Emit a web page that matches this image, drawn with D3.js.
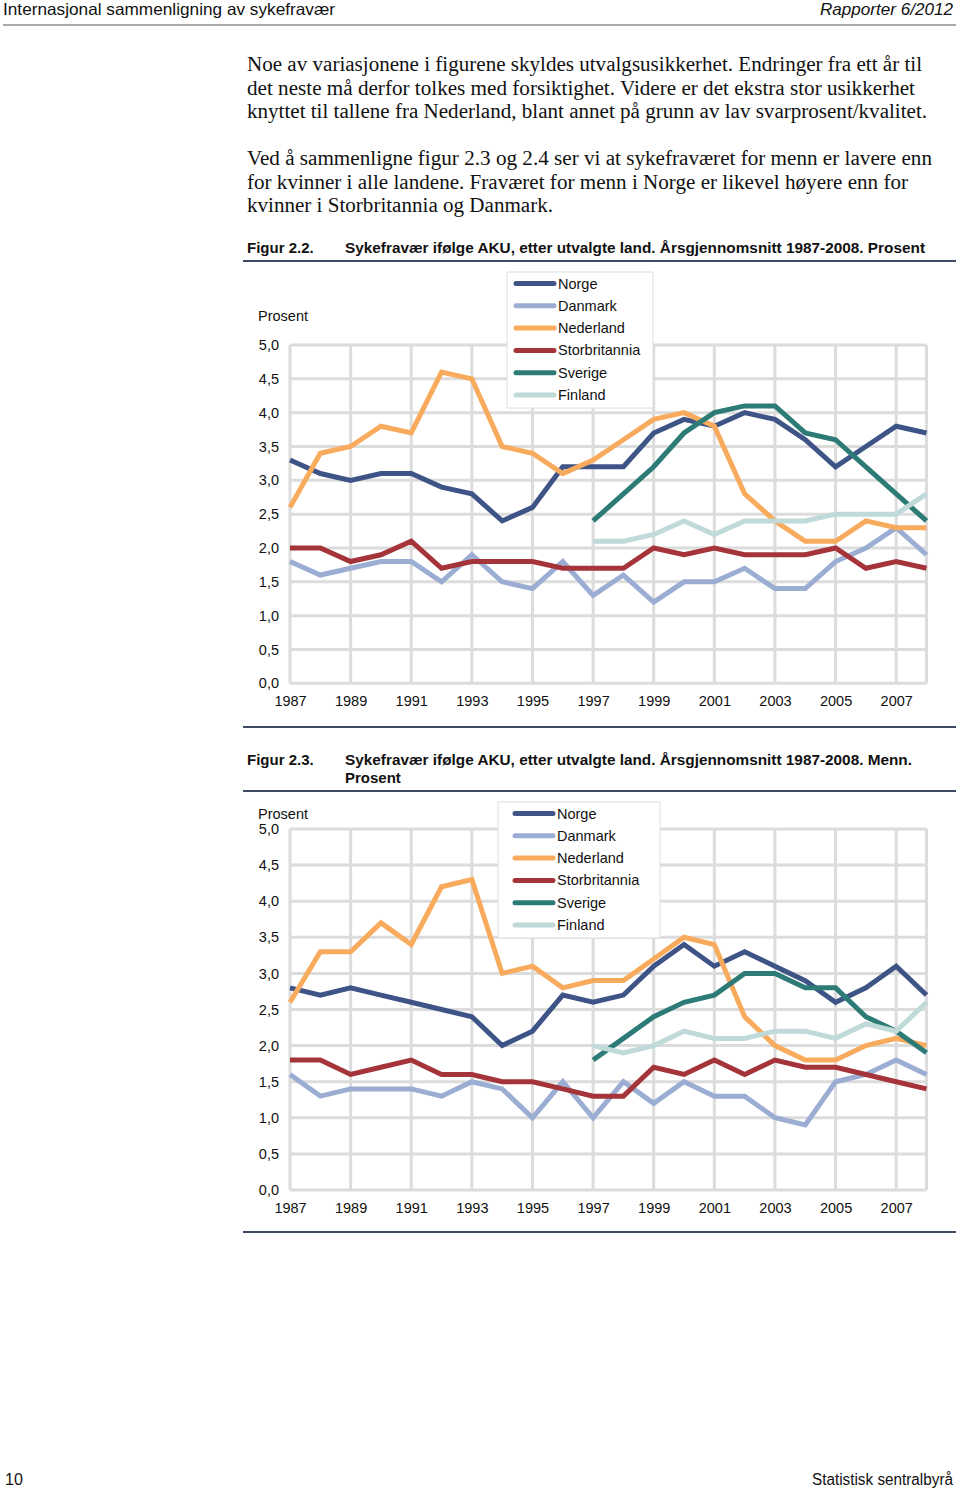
<!DOCTYPE html>
<html><head><meta charset="utf-8">
<script src="https://cdn.jsdelivr.net/npm/d3@7"></script>
<style>body{margin:0;background:#fff}svg{display:block}</style>
</head><body>
<script>
// ---------- data ----------
const years = d3.range(1987, 2009);
const countries = ["Norge","Danmark","Nederland","Storbritannia","Sverige","Finland"];
const colors = ["#3f5486","#9badd3","#f8ab5c","#a4343a","#2d7b76","#bfdad8"];
const yTicks = [0,0.5,1,1.5,2,2.5,3,3.5,4,4.5,5];
const xTickYears = [1987,1989,1991,1993,1995,1997,1999,2001,2003,2005,2007];
const N = null;
// Figur 2.2 (alle)
const f1Norge        = [3.3,3.1,3.0,3.1,3.1,2.9,2.8,2.4,2.6,3.2,3.2,3.2,3.7,3.9,3.8,4.0,3.9,3.6,3.2,3.5,3.8,3.7];
const f1Danmark      = [1.8,1.6,1.7,1.8,1.8,1.5,1.9,1.5,1.4,1.8,1.3,1.6,1.2,1.5,1.5,1.7,1.4,1.4,1.8,2.0,2.3,1.9];
const f1Nederland    = [2.6,3.4,3.5,3.8,3.7,4.6,4.5,3.5,3.4,3.1,3.3,3.6,3.9,4.0,3.8,2.8,2.4,2.1,2.1,2.4,2.3,2.3];
const f1Storbritannia= [2.0,2.0,1.8,1.9,2.1,1.7,1.8,1.8,1.8,1.7,1.7,1.7,2.0,1.9,2.0,1.9,1.9,1.9,2.0,1.7,1.8,1.7];
const f1Sverige      = [N,N,N,N,N,N,N,N,N,N,2.4,2.8,3.2,3.7,4.0,4.1,4.1,3.7,3.6,3.2,2.8,2.4];
const f1Finland      = [N,N,N,N,N,N,N,N,N,N,2.1,2.1,2.2,2.4,2.2,2.4,2.4,2.4,2.5,2.5,2.5,2.8];
// Figur 2.3 (menn)
const f2Norge        = [2.8,2.7,2.8,2.7,2.6,2.5,2.4,2.0,2.2,2.7,2.6,2.7,3.1,3.4,3.1,3.3,3.1,2.9,2.6,2.8,3.1,2.7];
const f2Danmark      = [1.6,1.3,1.4,1.4,1.4,1.3,1.5,1.4,1.0,1.5,1.0,1.5,1.2,1.5,1.3,1.3,1.0,0.9,1.5,1.6,1.8,1.6];
const f2Nederland    = [2.6,3.3,3.3,3.7,3.4,4.2,4.3,3.0,3.1,2.8,2.9,2.9,3.2,3.5,3.4,2.4,2.0,1.8,1.8,2.0,2.1,2.0];
const f2Storbritannia= [1.8,1.8,1.6,1.7,1.8,1.6,1.6,1.5,1.5,1.4,1.3,1.3,1.7,1.6,1.8,1.6,1.8,1.7,1.7,1.6,1.5,1.4];
const f2Sverige      = [N,N,N,N,N,N,N,N,N,N,1.8,2.1,2.4,2.6,2.7,3.0,3.0,2.8,2.8,2.4,2.2,1.9];
const f2Finland      = [N,N,N,N,N,N,N,N,N,N,2.0,1.9,2.0,2.2,2.1,2.1,2.2,2.2,2.1,2.3,2.2,2.6];

const fig1Series = [f1Norge,f1Danmark,f1Nederland,f1Storbritannia,f1Sverige,f1Finland];
const fig2Series = [f2Norge,f2Danmark,f2Nederland,f2Storbritannia,f2Sverige,f2Finland];

const headerLeft = "Internasjonal sammenligning av sykefravær";
const headerRight = "Rapporter 6/2012";
const bodyLines = [
 "Noe av variasjonene i figurene skyldes utvalgsusikkerhet. Endringer fra ett år til",
 "det neste må derfor tolkes med forsiktighet. Videre er det ekstra stor usikkerhet",
 "knyttet til tallene fra Nederland, blant annet på grunn av lav svarprosent/kvalitet.",
 "Ved å sammenligne figur 2.3 og 2.4 ser vi at sykefraværet for menn er lavere enn",
 "for kvinner i alle landene. Fraværet for menn i Norge er likevel høyere enn for",
 "kvinner i Storbritannia og Danmark."
];
const fig1Label = "Figur 2.2.";
const fig1Title = ["Sykefravær ifølge AKU, etter utvalgte land. Årsgjennomsnitt 1987-2008. Prosent"];
const fig2Label = "Figur 2.3.";
const fig2Title = ["Sykefravær ifølge AKU, etter utvalgte land. Årsgjennomsnitt 1987-2008. Menn.","Prosent"];

// ---------- drawing ----------
const W = 960, H = 1489;
const svg = d3.select("body").append("svg").attr("width",W).attr("height",H);
const narrow = "'Liberation Sans Narrow','Arial Narrow','Liberation Sans',sans-serif";
const sans = "'Liberation Sans',Arial,sans-serif";
const serif = "'Liberation Serif','Times New Roman',serif";
const ruleColor = "#3d4b66";

// header
svg.append("text").attr("x",3).attr("y",15).attr("font-family",narrow).attr("font-size",16.5)
  .attr("textLength",332).attr("lengthAdjust","spacingAndGlyphs").attr("fill","#111").text(headerLeft);
svg.append("text").attr("x",953).attr("y",15).attr("text-anchor","end").attr("font-family",narrow)
  .attr("font-style","italic").attr("font-size",16.5).attr("textLength",133).attr("lengthAdjust","spacingAndGlyphs")
  .attr("fill","#111").text(headerRight);
svg.append("line").attr("x1",3).attr("x2",956).attr("y1",25).attr("y2",25).attr("stroke","#555").attr("stroke-width",1.2);

// body text
const bodyY = [71,95,118,165,189,212];
const bodyW = [675,668,680,685,661,306];
bodyLines.forEach((t,i)=>{
  svg.append("text").attr("x",247).attr("y",bodyY[i]).attr("font-family",serif).attr("font-size",20)
    .attr("textLength",bodyW[i]).attr("lengthAdjust","spacingAndGlyphs").attr("fill","#111").text(t);
});

// footer
svg.append("text").attr("x",5).attr("y",1485).attr("font-family",narrow).attr("font-size",16).attr("fill","#111").text("10");
svg.append("text").attr("x",953).attr("y",1485).attr("text-anchor","end").attr("font-family",narrow).attr("font-size",16)
  .attr("textLength",141).attr("lengthAdjust","spacingAndGlyphs").attr("fill","#111").text("Statistisk sentralbyrå");

function figure(opt){
  const g = svg.append("g");
  // title
  g.append("text").attr("x",247).attr("y",opt.titleY).attr("font-family",narrow).attr("font-weight","bold")
    .attr("font-size",15).attr("fill","#111").text(opt.label);
  opt.title.forEach((t,i)=>{
    const tx = g.append("text").attr("x",345).attr("y",opt.titleY+18*i).attr("font-family",narrow)
      .attr("font-weight","bold").attr("font-size",15).attr("fill","#111").text(t);
    if(opt.titleW[i]) tx.attr("textLength",opt.titleW[i]).attr("lengthAdjust","spacingAndGlyphs");
  });
  g.append("line").attr("x1",243).attr("x2",956).attr("y1",opt.rule1).attr("y2",opt.rule1).attr("stroke",ruleColor).attr("stroke-width",2);
  g.append("line").attr("x1",243).attr("x2",956).attr("y1",opt.rule2).attr("y2",opt.rule2).attr("stroke",ruleColor).attr("stroke-width",2);

  const x = d3.scaleLinear().domain([1987,2008]).range([290,926.5]);
  const y = d3.scaleLinear().domain([0,5]).range([opt.y0,opt.y5]);

  // grid
  const grid = g.append("g").attr("stroke","#dcdcdc").attr("stroke-width",3);
  yTicks.forEach(v=>grid.append("line").attr("x1",x(1987)).attr("x2",x(2008)).attr("y1",y(v)).attr("y2",y(v)));
  xTickYears.concat([2008]).forEach(v=>grid.append("line").attr("x1",x(v)).attr("x2",x(v)).attr("y1",y(0)).attr("y2",y(5)));

  // y axis labels
  const yAxis = d3.axisLeft(y).tickValues(yTicks).tickSize(0).tickPadding(0)
    .tickFormat(d=>d3.format(".1f")(d).replace(".",","));
  const ya = g.append("g").attr("transform","translate(279,0)").call(yAxis);
  ya.select(".domain").remove();
  ya.selectAll("text").attr("font-family",sans).attr("font-size",14.5).attr("fill","#111");
  // x axis labels
  const xAxis = d3.axisBottom(x).tickValues(xTickYears).tickSize(0).tickPadding(0).tickFormat(d3.format("d"));
  const xa = g.append("g").attr("transform",`translate(0,${opt.xLabY})`).call(xAxis);
  xa.select(".domain").remove();
  xa.selectAll("text").attr("font-family",sans).attr("font-size",14.5).attr("fill","#111").attr("dy","0");
  // Prosent
  g.append("text").attr("x",258).attr("y",opt.prosentY).attr("font-family",sans).attr("font-size",14.5).attr("fill","#111").text("Prosent");

  // lines
  const line = d3.line().defined(d=>d[1]!==null).x(d=>x(d[0])).y(d=>y(d[1]));
  opt.series.forEach((s,i)=>{
    g.append("path").datum(years.map((yr,j)=>[yr,s[j]])).attr("d",line)
      .attr("fill","none").attr("stroke",colors[i]).attr("stroke-width",5).attr("stroke-linejoin","miter");
  });

  // legend
  const L = opt.legend;
  g.append("rect").attr("x",L.x).attr("y",L.y).attr("width",L.w).attr("height",L.h)
    .attr("fill","#fff").attr("stroke","#dedede").attr("stroke-width",1);
  countries.forEach((c,i)=>{
    const cy = L.y + 11.5 + i*22.3;
    g.append("line").attr("x1",L.lx).attr("x2",L.lx+38).attr("y1",cy).attr("y2",cy)
      .attr("stroke",colors[i]).attr("stroke-width",5).attr("stroke-linecap","round");
    g.append("text").attr("x",L.tx).attr("y",cy+5).attr("font-family",sans).attr("font-size",14.5).attr("fill","#111").text(c);
  });
}

figure({label:fig1Label,title:fig1Title,titleW:[580],titleY:253,rule1:261,rule2:727,
  y0:683.3,y5:345,xLabY:706,prosentY:321,series:fig1Series,
  legend:{x:507,y:272,w:146,h:136,lx:516,tx:558}});
figure({label:fig2Label,title:fig2Title,titleW:[567,null],titleY:765,rule1:791,rule2:1232,
  y0:1190,y5:829,xLabY:1213,prosentY:819,series:fig2Series,
  legend:{x:498,y:802,w:162,h:136,lx:515,tx:557}});
</script>
</body></html>
